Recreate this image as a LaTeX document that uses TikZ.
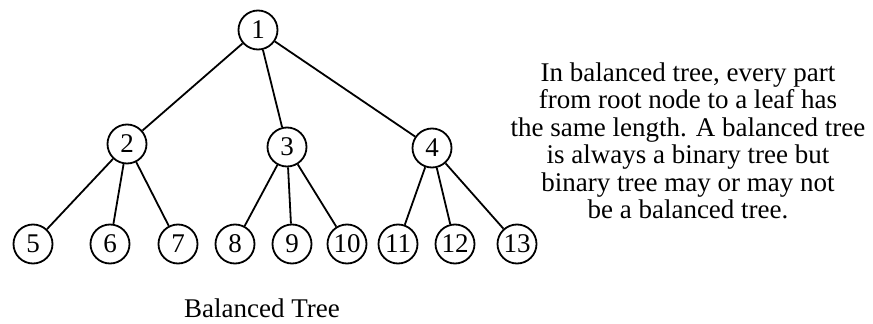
\documentclass[tikz,border=0pt]{standalone}
\usepackage{fontspec}
\setmainfont{Liberation Serif}
\usepackage{amsmath}

\begin{document}
\begin{tikzpicture}[x=1pt,y=1pt,
		vertex/.style={draw,circle,line width=1.8pt,minimum size=39pt,inner sep=0pt,font=\fontsize{27}{27}\selectfont},
		edge/.style={line width=1.8pt}]
			\useasboundingbox (0,0) rectangle (873,-324);
			\node[vertex] (n1) at (258,-30) {1}; % root
			\node[vertex] (n2) at (127,-144) {2}; % left child
			\node[vertex] (n3) at (287,-147) {3}; % middle child
			\node[vertex] (n4) at (432,-148) {4}; % right child
			\node[vertex] (n5) at (33,-244) {5}; % leaves of 2
			\node[vertex] (n6) at (110,-244) {6};
			\node[vertex] (n7) at (178,-244) {7};
			\node[vertex] (n8) at (235,-244) {8}; % leaves of 3
			\node[vertex] (n9) at (292,-244) {9};
			\node[vertex] (n10) at (347,-244) {10};
			\node[vertex] (n11) at (398,-244) {11}; % leaves of 4
			\node[vertex] (n12) at (455,-244) {12};
			\node[vertex] (n13) at (517,-244) {13};
			\draw[edge] (n1) -- (n2);
			\draw[edge] (n1) -- (n3);
			\draw[edge] (n1) -- (n4);
			\draw[edge] (n2) -- (n5);
			\draw[edge] (n2) -- (n6);
			\draw[edge] (n2) -- (n7);
			\draw[edge] (n3) -- (n8);
			\draw[edge] (n3) -- (n9);
			\draw[edge] (n3) -- (n10);
			\draw[edge] (n4) -- (n11);
			\draw[edge] (n4) -- (n12);
			\draw[edge] (n4) -- (n13);
			\node[font=\fontsize{27}{27}\selectfont] (caption) at (262,-308) {Balanced Tree}; % caption
			\node[align=center,font=\fontsize{27}{27.5}\selectfont] (note) at (688,-141) {In balanced tree, every part\\from root node to a leaf has\\the same length. A balanced tree\\is always a binary tree but\\binary tree may or may not\\be a balanced tree.}; % side note
		\end{tikzpicture}
\end{document}
